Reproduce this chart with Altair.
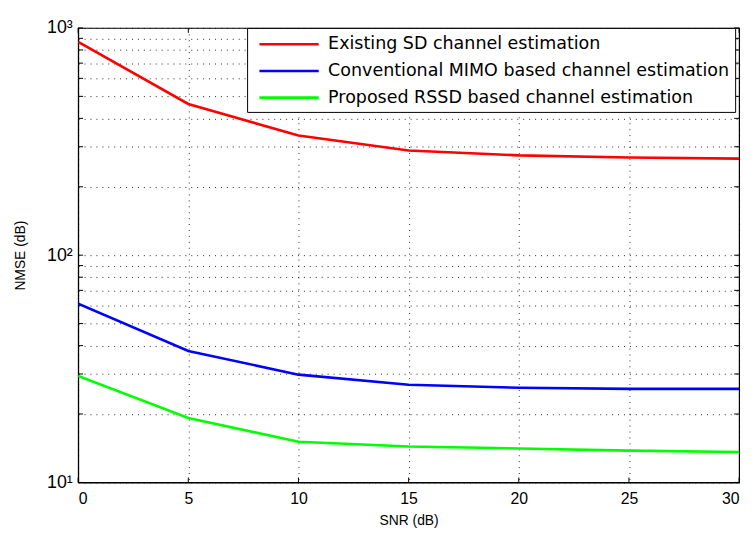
import altair as alt
import pandas as pd

snr = [0, 5, 10, 15, 20, 25, 30]
existing_sd = [869, 463, 336, 289, 275, 269, 266]
conventional_mimo = [61.2, 37.9, 29.8, 26.9, 26.1, 25.8, 25.8]
proposed_rssd = [29.4, 19.2, 15.1, 14.4, 14.1, 13.8, 13.6]

series_names = [
    "Existing SD channel estimation",
    "Conventional MIMO based channel estimation",
    "Proposed RSSD based channel estimation",
]
series_colors = ["#ff0000", "#0000ff", "#00ff00"]

x_ticks = [0, 5, 10, 15, 20, 25, 30]
y_ticks = [10, 20, 30, 40, 50, 60, 70, 80, 90,
           100, 200, 300, 400, 500, 600, 700, 800, 900, 1000]

rows = []
for name, vals in zip(series_names, [existing_sd, conventional_mimo, proposed_rssd]):
    for s, v in zip(snr, vals):
        rows.append({"SNR": s, "NMSE": v, "Series": name})
df = pd.DataFrame(rows)

FONT = "Liberation Sans"

x_scale = alt.Scale(domain=[0, 30], nice=False)
y_scale = alt.Scale(type="log", domain=[10, 1000], nice=False)

lines = alt.Chart(df).mark_line(strokeWidth=2.6, clip=True).encode(
    x=alt.X("SNR:Q", scale=x_scale,
            axis=alt.Axis(title="SNR (dB)", values=x_ticks, grid=True,
                          gridDash=[1, 5], gridColor="#000000", gridOpacity=0.85,
                          ticks=False, labelPadding=8, titlePadding=8,
                          labelFontSize=16, domainColor="#000000")),
    y=alt.Y("NMSE:Q", scale=y_scale,
            axis=alt.Axis(title="NMSE (dB)", values=y_ticks, grid=True,
                          gridDash=[1, 5], gridColor="#000000", gridOpacity=0.85,
                          ticks=False, labelPadding=6, titlePadding=19,
                          labelFontSize=18, domainColor="#000000",
                          labelExpr="datum.value == 10 ? '10¹' : datum.value == 100 ? '10²' : datum.value == 1000 ? '10³' : ''")),
    color=alt.Color("Series:N",
                    scale=alt.Scale(domain=series_names, range=series_colors),
                    sort=series_names,
                    legend=alt.Legend(title=None, orient="none", legendX=171, legendY=0,
                                      symbolType="M-3,0L3,0", symbolSize=400,
                                      symbolStrokeWidth=2.6, labelFontSize=17.7,
                                      labelFont="DejaVu Sans", labelColor="#000000",
                                      labelLimit=0, symbolOffset=26, labelOffset=28,
                                      rowPadding=6, padding=5,
                                      fillColor="#ffffff", strokeColor="#000000")),
)

tick_df = pd.DataFrame({"yt": y_ticks})
left_ticks = alt.Chart(tick_df).mark_rule(color="#000000", strokeWidth=1).encode(
    y=alt.Y("yt:Q", scale=y_scale), x=alt.value(0), x2=alt.value(5))
right_ticks = alt.Chart(tick_df).mark_rule(color="#000000", strokeWidth=1).encode(
    y=alt.Y("yt:Q", scale=y_scale), x=alt.value(664), x2=alt.value(669))
xt_df = pd.DataFrame({"xt": x_ticks})
bottom_ticks = alt.Chart(xt_df).mark_rule(color="#000000", strokeWidth=1).encode(
    x=alt.X("xt:Q", scale=x_scale), y=alt.value(455), y2=alt.value(460))
top_ticks = alt.Chart(xt_df).mark_rule(color="#000000", strokeWidth=1).encode(
    x=alt.X("xt:Q", scale=x_scale), y=alt.value(0), y2=alt.value(5))

chart = alt.layer(left_ticks, right_ticks, bottom_ticks, top_ticks, lines).properties(
    width=669, height=460,
    autosize=alt.AutoSizeParams(type="none"),
    padding={"left": 71, "top": 17, "right": 8, "bottom": 46},
    background="#ffffff",
).configure_view(stroke="#000000", strokeWidth=1.2).configure_axis(
    labelFont=FONT, titleFont=FONT, titleFontSize=14,
    labelColor="#000000", titleColor="#000000", titleFontWeight="normal",
)

chart.save("out.html", embed_options={"renderer": "svg", "actions": False})
